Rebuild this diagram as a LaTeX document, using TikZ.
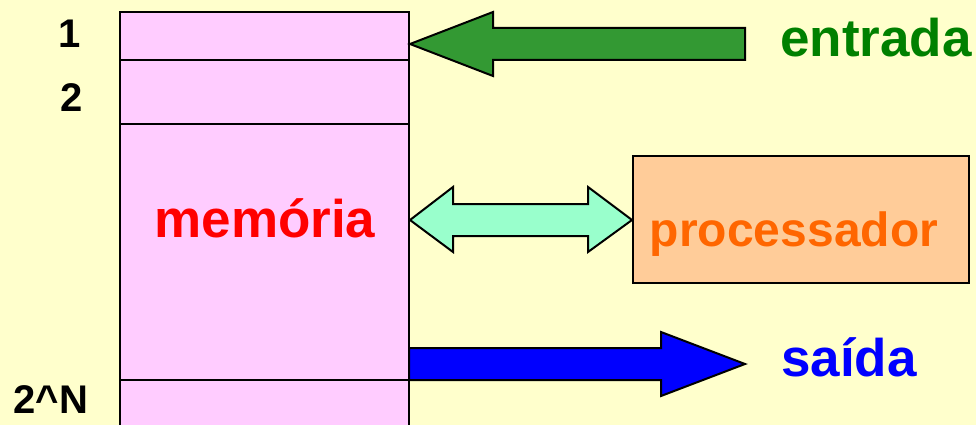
\documentclass[tikz,border=0pt]{standalone}
\usepackage{fontspec}
\setmainfont{Liberation Sans}
\definecolor{bg}{HTML}{FFFFCC}
\definecolor{mempink}{HTML}{FFCCFF}
\definecolor{arrgreen}{HTML}{339933}
\definecolor{txtgreen}{HTML}{008000}
\definecolor{aqua}{HTML}{99FFCC}
\definecolor{peach}{HTML}{FFCC99}
\definecolor{orangetxt}{HTML}{FF6600}
\begin{document}
\begin{tikzpicture}[x=1pt,y=-1pt,
  outl/.style={draw=black,line width=2pt,line join=miter},
  lbl/.style={inner sep=0,anchor=base,font=\bfseries\fontsize{40}{42}\selectfont},
  big/.style={inner sep=0,anchor=base,font=\bfseries\fontsize{53}{60}\selectfont}]
\useasboundingbox (0,0) rectangle (976,425);
\fill[bg] (0,0) rectangle (976,425);
% memory
\fill[mempink] (120,12) rectangle (409,425);
\draw[outl] (120,430) -- (120,12) -- (409,12) -- (409,430);
\draw[outl] (120,60) -- (409,60);
\draw[outl] (120,124) -- (409,124);
\draw[outl] (120,380) -- (409,380);
\node[lbl] (l1) at (70,48) {1};
\node[lbl] (l2) at (72,112) {2};
\node[lbl] (lN) at (51,413) {2\^{}N};
\node[big,text=red] (mem) at (265,237) {memória};
% processor
\node[outl,fill=peach,minimum width=336pt,minimum height=127pt,inner sep=0] (procbox) at (801,219.5) {};
\node[inner sep=0,anchor=base,font=\bfseries\fontsize{48}{54}\selectfont,text=orangetxt] (proc) at (794,246) {processador};
% input arrow
\draw[outl,fill=arrgreen] (410,44) -- (493,12) -- (493,28) -- (745,28) -- (745,60) -- (493,60) -- (493,76) -- cycle;
\node[big,text=txtgreen] (entrada) at (876,57) {entrada};
% bidirectional arrow
\draw[outl,fill=aqua] (410,220) -- (453,187) -- (453,204) -- (588,204) -- (588,187) -- (632,220) -- (588,252) -- (588,236) -- (453,236) -- (453,252) -- cycle;
% output arrow
\draw[outl,fill=blue] (409,348) -- (661,348) -- (661,332) -- (745,364) -- (661,396) -- (661,380) -- (409,380) -- cycle;
\node[big,text=blue] (saida) at (849,376) {saída};
\end{tikzpicture}
\end{document}
